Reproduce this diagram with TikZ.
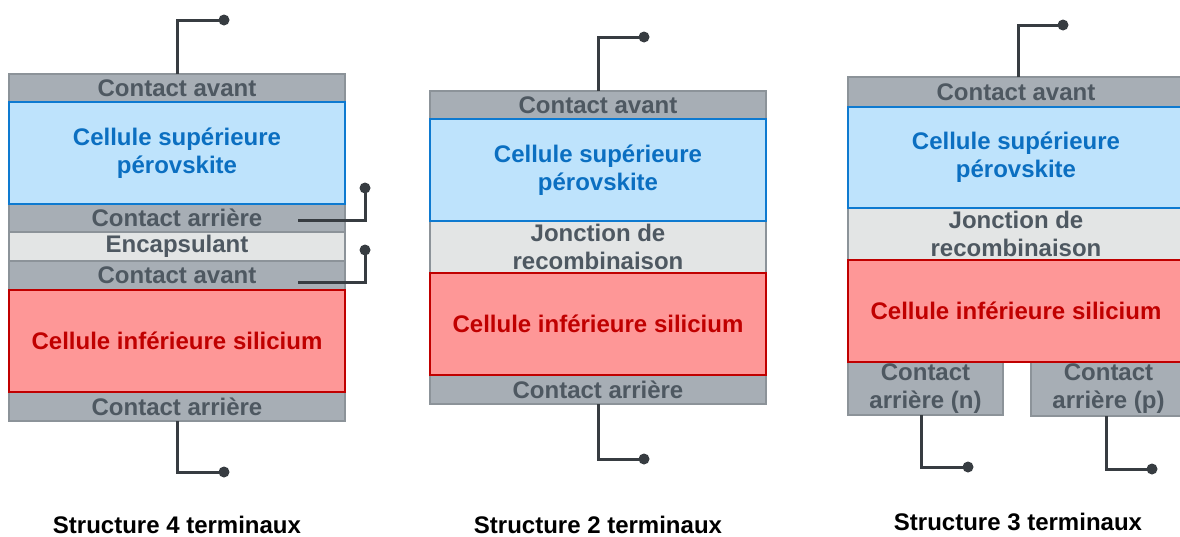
\documentclass[tikz,border=0pt]{standalone}
\usepackage{fontspec}
\setmainfont{Liberation Sans}
\definecolor{cgray}{HTML}{A7AEB5}
\definecolor{cgrayb}{HTML}{8C9399}
\definecolor{cgtext}{HTML}{4E5861}
\definecolor{cblue}{HTML}{BEE3FC}
\definecolor{cblueb}{HTML}{0E7AD0}
\definecolor{cbtext}{HTML}{0B6FC1}
\definecolor{cred}{HTML}{FE9797}
\definecolor{credb}{HTML}{C00000}
\definecolor{crtext}{HTML}{C00000}
\definecolor{cenc}{HTML}{E3E5E5}
\definecolor{cwire}{HTML}{373C41}
\begin{document}
\begin{tikzpicture}[x=1pt,y=-1pt,
  base/.style={rectangle, inner sep=0pt, outer sep=0pt, align=center,
    font=\fontsize{24}{28}\selectfont\bfseries},
  graylayer/.style={base, fill=cgray, draw=cgrayb, line width=1.5pt, text=cgtext},
  enclayer/.style={base, fill=cenc, draw=cgrayb, line width=1.5pt, text=cgtext},
  bluelayer/.style={base, fill=cblue, draw=cblueb, line width=2pt, text=cbtext},
  redlayer/.style={base, fill=cred, draw=credb, line width=2pt, text=crtext},
  wire/.style={draw=cwire, line width=3pt},
  dot/.style={fill=cwire},
  title/.style={font=\fontsize{24}{28}\selectfont\bfseries, text=black, inner sep=0pt}
]
\useasboundingbox (0,0) rectangle (1180,536);
\clip (0,0) rectangle (1180,536);

% ---------- Structure 4 terminaux ----------
\node[graylayer, minimum width=336pt, minimum height=28pt] (a1) at (177,88) {Contact avant};
\node[graylayer, minimum width=336pt, minimum height=28pt] (a3) at (177,218) {Contact arrière};
\node[enclayer, minimum width=336pt, minimum height=29pt] (a4) at (177,246.5) {Encapsulant};
\node[graylayer, minimum width=336pt, minimum height=29pt] (a5) at (177,275.5) {Contact avant};
\node[graylayer, minimum width=336pt, minimum height=29pt] (a7) at (177,406.5) {Contact arrière};
\node[bluelayer, minimum width=336pt, minimum height=102pt] (a2) at (177,153) {Cellule supérieure\\pérovskite};
\node[redlayer, minimum width=336pt, minimum height=102pt] (a6) at (177,341) {Cellule inférieure silicium};

\coordinate (at) at (224,20);
\coordinate (ab) at (224,472);
\coordinate (as1) at (298,220);
\coordinate (ae1) at (365,188);
\coordinate (as2) at (298,282);
\coordinate (ae2) at (365,250);
\draw[wire] (a1.north) |- (at);
\draw[wire] (a7.south) |- (ab);
\draw[wire] (as1) -| (ae1);
\draw[wire] (as2) -| (ae2);
\foreach \p in {at,ab,ae1,ae2} \fill[dot] (\p) circle (5.5pt);
\node[title] (ta) at (177,525) {Structure 4 terminaux};

% ---------- Structure 2 terminaux ----------
\node[graylayer, minimum width=336pt, minimum height=28pt] (b1) at (598,105) {Contact avant};
\node[enclayer, minimum width=336pt, minimum height=52pt] (b3) at (598,247) {Jonction de\\recombinaison};
\node[graylayer, minimum width=336pt, minimum height=29pt] (b5) at (598,389.5) {Contact arrière};
\node[bluelayer, minimum width=336pt, minimum height=102pt] (b2) at (598,170) {Cellule supérieure\\pérovskite};
\node[redlayer, minimum width=336pt, minimum height=102pt] (b4) at (598,324) {Cellule inférieure silicium};

\coordinate (bt) at (644,37);
\coordinate (bb) at (644,459);
\draw[wire] (b1.north) |- (bt);
\draw[wire] (b5.south) |- (bb);
\foreach \p in {bt,bb} \fill[dot] (\p) circle (5.5pt);
\node[title] (tb) at (598,525) {Structure 2 terminaux};

% ---------- Structure 3 terminaux ----------
\node[graylayer, minimum width=336pt, minimum height=30pt] (c1) at (1016,92) {Contact avant};
\node[enclayer, minimum width=336pt, minimum height=52pt] (c3) at (1016,234) {Jonction de\\recombinaison};
\node[graylayer, minimum width=155pt, minimum height=53pt] (cn) at (925.5,388.5) {Contact\\arrière (n)};
\node[graylayer, minimum width=155pt, minimum height=54pt] (cp) at (1108.5,389) {Contact\\arrière (p)};
\node[bluelayer, minimum width=336pt, minimum height=101pt] (c2) at (1016,157.5) {Cellule supérieure\\pérovskite};
\node[redlayer, minimum width=336pt, minimum height=102pt] (c4) at (1016,311) {Cellule inférieure silicium};

\coordinate (ct) at (1063,25);
\coordinate (cnb) at (968,467);
\coordinate (cpb) at (1152,469);
\draw[wire] (c1.north -| 1018,0) |- (ct);
\draw[wire] (cn.south -| 921,0) |- (cnb);
\draw[wire] (cp.south -| 1106,0) |- (cpb);
\foreach \p in {ct,cnb,cpb} \fill[dot] (\p) circle (5.5pt);
\node[title] (tc) at (1018,522) {Structure 3 terminaux};
\end{tikzpicture}
\end{document}
